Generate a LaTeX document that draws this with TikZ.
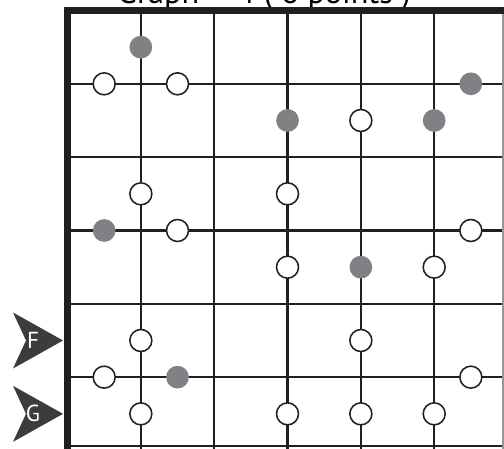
\documentclass[tikz,border=0pt]{standalone}
\usepackage{fontspec}
\setmainfont{PT Sans}
\usepackage{tikz}
\usetikzlibrary{arrows.meta,positioning}
\definecolor{gridblack}{RGB}{35,31,32}
\definecolor{dotgray}{RGB}{128,129,133}
\definecolor{markgray}{RGB}{60,60,60}
\definecolor{edgegray}{RGB}{150,150,150}

\begin{document}
\begin{tikzpicture}[
  gline/.style={draw=gridblack, line width=1pt},
  wdot/.style={circle, draw=gridblack, fill=white, line width=0.6pt, minimum size=0.30cm, inner sep=0pt},
  gdot/.style={circle, fill=dotgray, minimum size=0.31cm, inner sep=0pt},
  marker/.style={fill=markgray},
  mlabel/.style={text=white, font=\fontsize{9}{10}\selectfont}
]
  \clip (-0.9205,0.034) rectangle (5.952,6.143);
  % title (cut off at the top)
  \node[anchor=base, font=\fontsize{12.5}{14}\selectfont] (title) at (2.68,6.10) {Graph -- 4 ( 6 points )};
  % grid
  \foreach \i in {1,...,5} {
    \draw[gline] (\i,0) -- (\i,6);
    \draw[gline] (0,\i) -- (6,\i);
  }
  \draw[gline] (0,0.06) -- (5.94,0.06);
  \draw[draw=edgegray, line width=0.6pt] (5.94,0) -- (5.94,6);
  \draw[draw=gridblack, line width=2.7pt] (6,6) -- (0,6) -- (0,0);
  % markers
  \fill[marker] (-0.061,1.5) -- (-0.743,1.882) -- (-0.566,1.5) -- (-0.743,1.118) -- cycle;
  \node[mlabel] (F) at (-0.47,1.5) {F};
  \fill[marker] (-0.061,0.5) -- (-0.743,0.882) -- (-0.566,0.5) -- (-0.743,0.118) -- cycle;
  \node[mlabel] (G) at (-0.47,0.5) {G};
  % grey points
  \node[gdot] (g1) at (1,5.5) {};
  \node[gdot] (g2) at (5.5,5) {};
  \node[gdot] (g3) at (3,4.5) {};
  \node[gdot] (g4) at (5,4.5) {};
  \node[gdot] (g5) at (0.5,3) {};
  \node[gdot] (g6) at (4,2.5) {};
  \node[gdot] (g7) at (1.5,1) {};
  % white points
  \node[wdot] (w1) at (0.5,5) {};
  \node[wdot] (w2) at (1.5,5) {};
  \node[wdot] (w3) at (4,4.5) {};
  \node[wdot] (w4) at (1,3.5) {};
  \node[wdot] (w5) at (3,3.5) {};
  \node[wdot] (w6) at (1.5,3) {};
  \node[wdot] (w7) at (5.5,3) {};
  \node[wdot] (w8) at (3,2.5) {};
  \node[wdot] (w9) at (5,2.5) {};
  \node[wdot] (w10) at (1,1.5) {};
  \node[wdot] (w11) at (4,1.5) {};
  \node[wdot] (w12) at (0.5,1) {};
  \node[wdot] (w13) at (5.5,1) {};
  \node[wdot] (w14) at (1,0.5) {};
  \node[wdot] (w15) at (3,0.5) {};
  \node[wdot] (w16) at (4,0.5) {};
  \node[wdot] (w17) at (5,0.5) {};
\end{tikzpicture}
\end{document}
